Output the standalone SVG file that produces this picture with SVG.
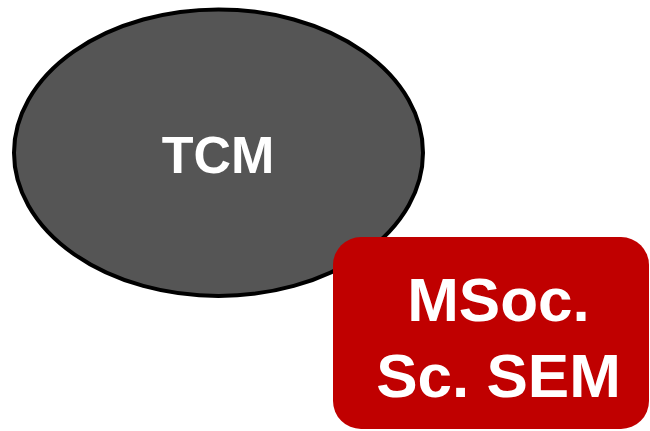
<svg xmlns="http://www.w3.org/2000/svg" width="650" height="431" viewBox="0 0 650 431">
<style>
.lbl{font-family:"Liberation Sans",Arial,sans-serif;font-weight:bold;fill:#ffffff;text-anchor:middle}
</style>
<rect width="650" height="431" fill="#ffffff"/>
<g id="connectors"></g>
<g id="tcm">
<ellipse cx="218.5" cy="152.7" rx="204.5" ry="143.3" fill="#555555" stroke="#000000" stroke-width="4"/>
<text class="lbl" x="218" y="173" font-size="52">TCM</text>
</g>
<g id="msoc">
<rect x="333" y="237" width="316" height="192" rx="28" ry="28" fill="#c00000"/>
<text class="lbl" x="498.5" y="321" font-size="62">MSoc.</text>
<text class="lbl" x="498.5" y="397" font-size="62">Sc. SEM</text>
</g>
</svg>
